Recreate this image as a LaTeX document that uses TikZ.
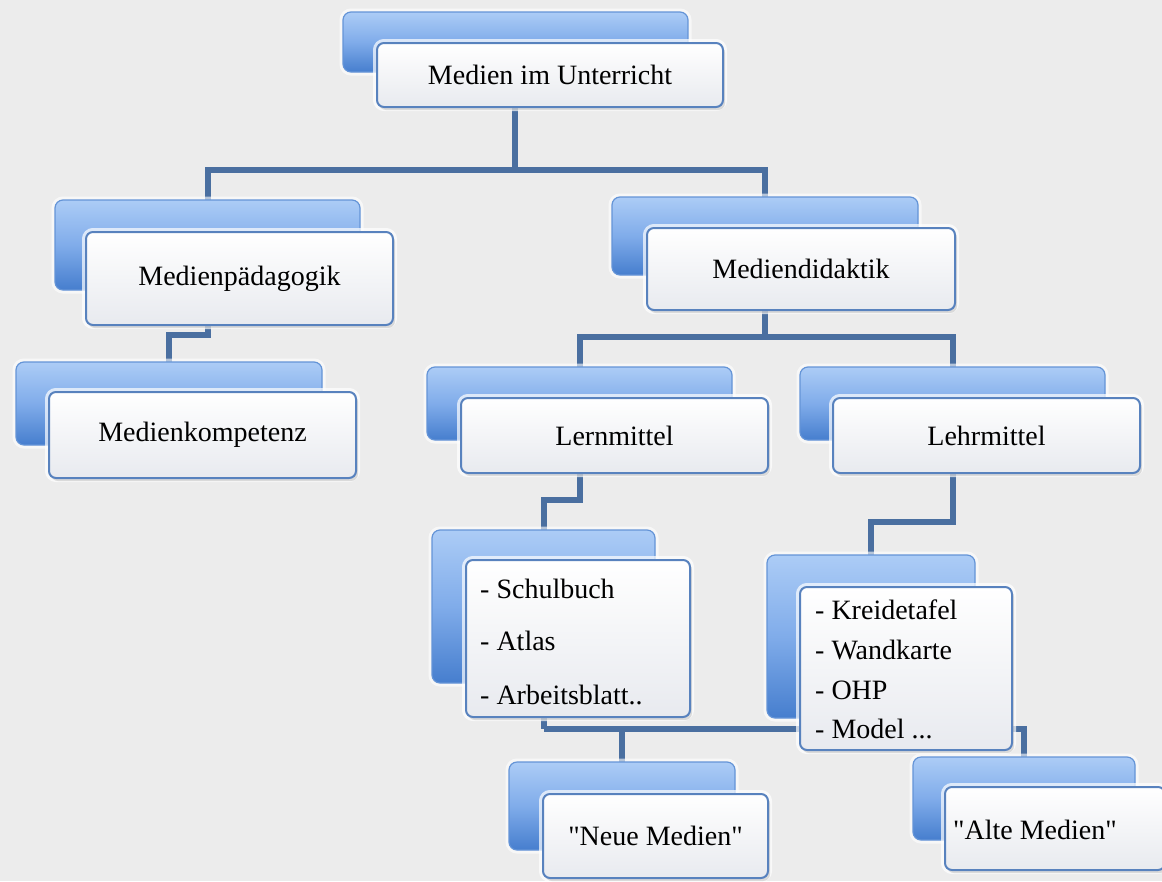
\documentclass[tikz,border=0pt]{standalone}
\usepackage{fontspec}
\setmainfont{Liberation Serif}
\newfontfamily\plainserif{Liberation Serif}
\usetikzlibrary{shadows}
\pgfdeclarelayer{bgfill}
\pgfdeclarelayer{lines}
\pgfsetlayers{bgfill,lines,main}
\definecolor{bgc}{RGB}{236,236,236}
\definecolor{conncol}{RGB}{74,111,160}
\definecolor{frontborder}{RGB}{88,130,190}
\definecolor{backtop}{RGB}{172,204,246}
\definecolor{backmid}{RGB}{128,172,234}
\definecolor{backbot}{RGB}{70,126,206}
\definecolor{backborder}{RGB}{100,148,215}
\definecolor{frontbot}{RGB}{232,234,239}
\newcommand{\qq}{{\plainserif"}}
\tikzset{
  backbox/.style={rectangle, rounded corners=8pt, inner sep=0pt, outer sep=0pt,
    draw=backborder, line width=1.2pt, top color=backtop, bottom color=backbot, middle color=backmid,
    preaction={draw=white, line width=7pt, opacity=0.6}},
  frontbox/.style={rectangle, rounded corners=7pt, inner sep=0pt, outer sep=0pt,
    draw=frontborder, line width=2pt, top color=white, bottom color=frontbot,
    preaction={draw=white, line width=8pt, opacity=0.7},
    drop shadow={opacity=0.25, shadow xshift=2pt, shadow yshift=-3pt},
    font=\fontsize{28}{32}\selectfont},
  listtext/.style={anchor=base west, inner sep=0pt, font=\fontsize{28}{32}\selectfont},
  conn/.style={draw=conncol, line width=6pt}
}
\begin{document}
\begin{tikzpicture}[x=1pt,y=-1pt]
\useasboundingbox (0,0) rectangle (1162,881);
\begin{pgfonlayer}{bgfill}
\fill[bgc] (0,0) rectangle (1162,881);
\end{pgfonlayer}

% Medien im Unterricht
\node[backbox, minimum width=345pt, minimum height=60pt] (rootb) at (515.5,42) {};
\node[frontbox, minimum width=346pt, minimum height=64pt] (root) at (550,75) {Medien im Unterricht};

% Medienpaedagogik
\node[backbox, minimum width=305pt, minimum height=90pt] (pedb) at (207.5,245) {};
\node[frontbox, minimum width=307pt, minimum height=93pt] (ped) at (239.5,278.5) {Medienpädagogik};

% Medienkompetenz
\node[backbox, minimum width=306pt, minimum height=83pt] (kompb) at (169,403.5) {};
\node[frontbox, minimum width=307pt, minimum height=86pt] (komp) at (202.5,435) {Medienkompetenz};

% Mediendidaktik
\node[backbox, minimum width=306pt, minimum height=78pt] (didb) at (765,236) {};
\node[frontbox, minimum width=308pt, minimum height=82pt] (did) at (801,269) {Mediendidaktik};

% Lernmittel
\node[backbox, minimum width=305pt, minimum height=73pt] (lernb) at (579.5,403.5) {};
\node[frontbox, minimum width=307pt, minimum height=75pt] (lern) at (614.5,435.5) {Lernmittel};

% Lehrmittel
\node[backbox, minimum width=305pt, minimum height=73pt] (lehrb) at (952.5,403.5) {};
\node[frontbox, minimum width=307pt, minimum height=75pt] (lehr) at (986.5,435.5) {Lehrmittel};

% Schulbuch list
\node[backbox, minimum width=223pt, minimum height=153pt] (schulb) at (543.5,606.5) {};
\node[frontbox, minimum width=224pt, minimum height=157pt] (schul) at (578,638.5) {};
\node[listtext] (s1) at (480,598) {- Schulbuch};
\node[listtext] (s2) at (480,650) {- Atlas};
\node[listtext] (s3) at (480,704) {- Arbeitsblatt..};

% Kreidetafel list
\node[backbox, minimum width=208pt, minimum height=163pt] (kreib) at (871,636.5) {};
\node[frontbox, minimum width=212pt, minimum height=163pt] (krei) at (906,668.5) {};
\node[listtext] (k1) at (815,619) {- Kreidetafel};
\node[listtext] (k2) at (815,659) {- Wandkarte};
\node[listtext] (k3) at (815,699) {- OHP};
\node[listtext] (k4) at (815,738) {- Model ...};

% Neue Medien
\node[backbox, minimum width=226pt, minimum height=88pt] (neub) at (622,806) {};
\node[frontbox, minimum width=225pt, minimum height=84pt] (neu) at (655.5,836) {\qq Neue Medien\qq};

% Alte Medien
\node[backbox, minimum width=222pt, minimum height=83pt] (alteb) at (1024,798.5) {};
\node[frontbox, minimum width=220pt, minimum height=83pt] (alte) at (1055,828.5) {};
\node[inner sep=0pt, font=\fontsize{28}{32}\selectfont] (altet) at (1035,830) {\qq Alte Medien\qq};

\begin{pgfonlayer}{lines}
\coordinate (j1) at (515,170);
\draw[conn] (root.south -| j1) -- (j1);
\draw[conn] (pedb.north) |- (j1) -| (didb.north);
\draw[conn] (ped.south -| pedb) -- ++(0,10) -| (kompb.north);
\draw[conn] (did.south -| didb) -- ++(0,27) coordinate (j2);
\draw[conn] (lernb.north) |- (j2) -| (lehrb.north);
\draw[conn] (lern.south -| lernb) -- ++(0,27) -| (schulb.north);
\draw[conn] (lehr.south -| lehrb) -- ++(0,49) -| (kreib.north);
\draw[conn] (schul.south -| schulb) -- ++(0,12) coordinate (j3);
\draw[conn] (j3) -| (alteb.north);
\draw[conn] (neub.north) |- (j3);
\end{pgfonlayer}
\end{tikzpicture}
\end{document}
